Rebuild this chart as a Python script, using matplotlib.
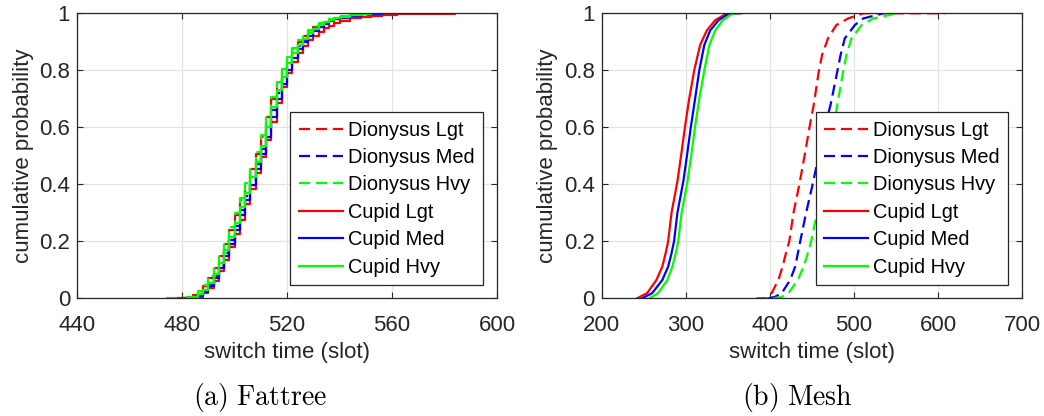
import numpy as np
import matplotlib
matplotlib.use("Agg")
import matplotlib.pyplot as plt
from matplotlib.ticker import FuncFormatter

plt.rcParams['font.family'] = ['Liberation Sans', 'DejaVu Sans']
plt.rcParams['mathtext.fontset'] = 'cm'

nan = float('nan')

labels = ['Dionysus Lgt', 'Dionysus Med', 'Dionysus Hvy', 'Cupid Lgt', 'Cupid Med', 'Cupid Hvy']

# ---------------- Fattree (step CDFs on a shared slot grid) ----------------
ft_x = [474, 478, 480, 482, 484, 486, 488, 490, 492, 494, 496, 498, 500, 502, 504, 506, 508, 510,
        512, 514, 516, 518, 520, 522, 524, 526, 528, 530, 532, 534, 536, 538, 540, 544, 548, 552,
        556, 562, 570, 584]

ft_dion_lgt = [nan, 0, 0, 0.002, 0.01, 0.022, 0.042, 0.07, 0.105, 0.148, 0.192, 0.24, 0.292, 0.345,
               0.397, 0.452, 0.507, 0.567, 0.635, 0.70, 0.752, 0.80, 0.843, 0.875, 0.90, 0.92, 0.937,
               0.951, 0.962, 0.97, 0.976, 0.981, 0.985, 0.99, 0.994, 0.997, 0.999, 1.0, 1.0, 1.0]
ft_dion_med = [nan, nan, nan, 0, 0.004, 0.012, 0.026, 0.05, 0.078, 0.115, 0.16, 0.205, 0.255, 0.31,
               0.36, 0.415, 0.47, 0.525, 0.59, 0.66, 0.72, 0.77, 0.82, 0.855, 0.885, 0.905, 0.925,
               0.942, 0.955, 0.966, 0.975, 0.981, 0.986, 0.992, 0.996, 0.999, 1.0, 1.0, 1.0, 1.0]
ft_dion_hvy = [0, 0, 0, 0.003, 0.012, 0.026, 0.048, 0.078, 0.115, 0.158, 0.2, 0.25, 0.3, 0.352,
               0.405, 0.458, 0.512, 0.572, 0.64, 0.705, 0.758, 0.805, 0.848, 0.88, 0.905, 0.925,
               0.942, 0.955, 0.966, 0.974, 0.98, 0.985, 0.989, 0.993, 0.996, 0.998, 1.0, 1.0, 1.0, 1.0]
ft_cup_lgt = [nan, nan, 0, 0, 0.003, 0.006, 0.018, 0.035, 0.06, 0.095, 0.135, 0.18, 0.225, 0.275,
              0.33, 0.385, 0.44, 0.495, 0.555, 0.62, 0.685, 0.74, 0.79, 0.83, 0.86, 0.885, 0.905,
              0.922, 0.936, 0.948, 0.957, 0.965, 0.972, 0.982, 0.988, 0.992, 0.995, 0.997, 0.999, 1.0]
ft_cup_med = [nan, nan, nan, nan, 0, 0.008, 0.022, 0.042, 0.07, 0.105, 0.148, 0.192, 0.24, 0.292,
              0.345, 0.397, 0.452, 0.507, 0.567, 0.635, 0.70, 0.752, 0.80, 0.843, 0.875, 0.90, 0.92,
              0.937, 0.951, 0.963, 0.972, 0.979, 0.985, 0.991, 0.996, 0.999, 1.0, 1.0, 1.0, 1.0]
ft_cup_hvy = [nan, nan, nan, 0, 0.005, 0.015, 0.03, 0.055, 0.085, 0.125, 0.17, 0.215, 0.265, 0.32,
              0.37, 0.425, 0.48, 0.535, 0.6, 0.67, 0.73, 0.775, 0.825, 0.86, 0.89, 0.91, 0.93,
              0.945, 0.958, 0.968, 0.976, 0.982, 0.987, 0.993, 0.997, 1.0, 1.0, 1.0, 1.0, 1.0]

# ---------------- Mesh (CDF knots per series) ----------------
mesh_dion_lgt_x = [384, 398, 402, 410, 415, 419, 423, 428, 435, 442, 447, 452, 458, 462, 469, 479, 493, 511, 608]
mesh_dion_lgt_p = [0, 0, 0.018, 0.064, 0.111, 0.158, 0.2, 0.3, 0.4, 0.514, 0.6, 0.678, 0.795, 0.854, 0.912, 0.959, 0.982, 1.0, 1.0]
mesh_dion_med_x = [398, 406, 414, 424, 430, 436, 443, 450, 458, 465, 472, 480, 484, 489, 501, 511, 535]
mesh_dion_med_p = [0, 0.005, 0.018, 0.064, 0.111, 0.2, 0.3, 0.39, 0.5, 0.6, 0.678, 0.795, 0.854, 0.912, 0.959, 0.982, 1.0]
mesh_dion_hvy_x = [404, 414, 422, 433, 440, 445, 449, 456, 463, 470, 476, 480, 487, 491, 497, 509, 523, 551]
mesh_dion_hvy_p = [0, 0.005, 0.018, 0.064, 0.111, 0.158, 0.2, 0.3, 0.4, 0.5, 0.6, 0.678, 0.795, 0.854, 0.912, 0.959, 0.982, 1.0]
mesh_cup_lgt_x = [242, 254, 265, 272, 276, 279, 283, 290, 295, 299, 304, 310, 317, 325, 335, 349, 366]
mesh_cup_lgt_p = [0, 0.018, 0.064, 0.111, 0.158, 0.2, 0.3, 0.41, 0.514, 0.602, 0.70, 0.80, 0.889, 0.94, 0.976, 1.0, 1.0]
mesh_cup_med_x = [248, 260, 272, 279, 283, 286, 290, 297, 302, 306, 311, 316, 322, 329, 339, 352, 362]
mesh_cup_med_p = [0, 0.018, 0.064, 0.111, 0.158, 0.2, 0.3, 0.41, 0.514, 0.602, 0.70, 0.80, 0.889, 0.94, 0.976, 1.0, 1.0]
mesh_cup_hvy_x = [257, 267, 278, 284, 288, 291, 295, 302, 307, 311, 316, 322, 328, 335, 344, 356, 364]
mesh_cup_hvy_p = [0, 0.018, 0.064, 0.111, 0.158, 0.2, 0.3, 0.41, 0.514, 0.602, 0.70, 0.80, 0.889, 0.94, 0.976, 1.0, 1.0]

ft_xticks = [440, 480, 520, 560, 600]
mesh_xticks = [200, 300, 400, 500, 600, 700]
yticks = [0, 0.2, 0.4, 0.6, 0.8, 1]

colors = ['#ff0000', '#0000ff', '#00ff00', '#ff0000', '#0000ff', '#00ff00']
dash = (0, (5.0, 2.6))
styles = [dash, dash, dash, '-', '-', '-']

W, H = 1044, 416
fig = plt.figure(figsize=(W / 100, H / 100), dpi=100)
ax1 = fig.add_axes([77 / W, 1 - 298.3 / H, 420 / W, 285 / H])
ax2 = fig.add_axes([601.7 / W, 1 - 298.3 / H, 420.6 / W, 285 / H])

edge = '#262626'
fs = 16
lfs = 14.4
lw = 1.6

ft_series = [ft_dion_lgt, ft_dion_med, ft_dion_hvy, ft_cup_lgt, ft_cup_med, ft_cup_hvy]
for p, c, ls, lab in zip(ft_series, colors, styles, labels):
    ax1.step(ft_x, np.array(p, dtype=float), where='post', color=c, linestyle=ls, lw=lw, label=lab)

mesh_series = [(mesh_dion_lgt_x, mesh_dion_lgt_p), (mesh_dion_med_x, mesh_dion_med_p),
               (mesh_dion_hvy_x, mesh_dion_hvy_p), (mesh_cup_lgt_x, mesh_cup_lgt_p),
               (mesh_cup_med_x, mesh_cup_med_p), (mesh_cup_hvy_x, mesh_cup_hvy_p)]
for (x, p), c, ls, lab in zip(mesh_series, colors, styles, labels):
    ax2.plot(x, p, color=c, linestyle=ls, lw=lw, label=lab)


def fmt(v, pos):
    return '%g' % v


for ax, xt in ((ax1, ft_xticks), (ax2, mesh_xticks)):
    ax.set_xlim(xt[0], xt[-1])
    ax.set_ylim(0, 1)
    ax.set_xticks(xt)
    ax.set_yticks(yticks)
    ax.yaxis.set_major_formatter(FuncFormatter(fmt))
    ax.grid(True, color='#e3e3e3', lw=0.9)
    ax.set_axisbelow(True)
    ax.tick_params(direction='in', top=True, right=True, length=4, width=0.8,
                   colors=edge, labelsize=fs)
    ax.tick_params(axis='x', pad=12)
    ax.tick_params(axis='y', pad=5)
    for s in ax.spines.values():
        s.set_color(edge)
        s.set_linewidth(0.9)
    ax.set_xlabel('switch time (slot)', fontsize=fs, color=edge, labelpad=4)
    ax.set_ylabel('cumulative probability', fontsize=fs, color=edge, labelpad=4)
    leg = ax.legend(loc='lower right', bbox_to_anchor=(0.966, 0.047), borderaxespad=0,
                    fontsize=lfs, frameon=True, fancybox=False, edgecolor=edge, framealpha=1,
                    handlelength=2.2, handletextpad=0.25, labelspacing=0.42, borderpad=0.42)
    leg.get_frame().set_linewidth(0.9)

fig.text(260 / W, 1 - 398 / H, r'$\mathrm{(a)\ Fattree}$', ha='center', va='center', fontsize=20)
fig.text(797 / W, 1 - 398 / H, r'$\mathrm{(b)\ Mesh}$', ha='center', va='center', fontsize=20)

fig.savefig('out.png', dpi=100)
